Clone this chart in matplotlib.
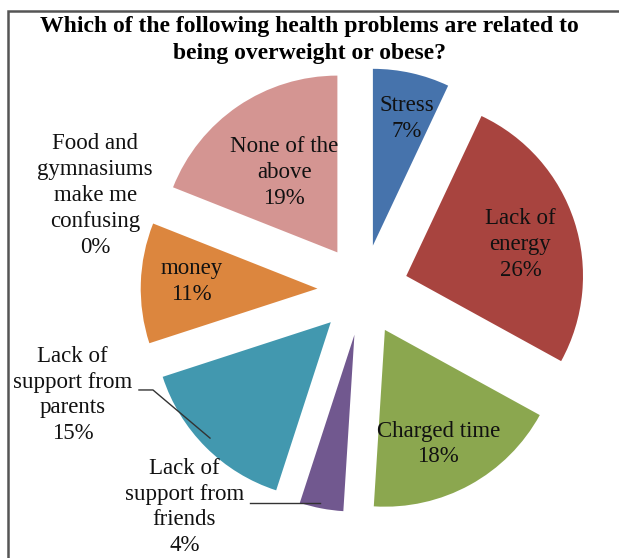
import numpy as np
import matplotlib.pyplot as plt
from matplotlib.patches import Rectangle

plt.rcParams['font.family'] = ['Liberation Serif', 'DejaVu Serif']

categories = ['Stress', 'Lack of energy', 'Charged time', 'Lack of support from friends',
              'Lack of support from parents', 'money', 'Food and gymnasiums make me confusing',
              'None of the above']
values = [7, 26, 18, 4, 15, 11, 0, 19]
colors = ['#4673AC', '#A8443F', '#8BA74F', '#71588F', '#4298AF', '#DC863E', '#93A9CF', '#D49592']

# label text (with line breaks) and where each one sits
labels = ['Stress', 'Lack of\nenergy', 'Charged time', 'Lack of\nsupport from\nfriends',
          'Lack of\nsupport from\nparents', 'money', 'Food and\ngymnasiums\nmake me\nconfusing',
          'None of the\nabove']
label_pos = [(0.25, 0.98), (0.90, 0.26), (0.43, -0.88), (-1.02, -1.24),
             (-1.66, -0.60), (-0.98, 0.05), (-1.53, 0.54), (-0.45, 0.67)]

fig = plt.figure(figsize=(6.19, 5.58), dpi=100)
ax = fig.add_axes([0, 0, 1, 1])

wedges, _ = ax.pie(values, colors=colors, startangle=90, counterclock=False,
                   explode=[0.26] * len(values), radius=1.01,
                   wedgeprops=dict(linewidth=0))

for lab, v, (x, y) in zip(labels, values, label_pos):
    ax.text(x, y, f'{lab}\n{v}%', ha='center', va='center', fontsize=16.5,
            linespacing=1.3, color='#111111')

# leader lines for the outside labels
ax.plot([-1.28, -1.20, -0.874], [-0.571, -0.571, -0.846], color='#333333', lw=1)
ax.plot([-0.646, -0.246], [-1.216, -1.216], color='#333333', lw=1)

ax.set_xlim(-2.074, 1.463)
ax.set_ylim(-1.531, 1.657)
ax.set_aspect('auto')
ax.axis('off')

fig.text(0.5, 0.972, 'Which of the following health problems are related to\n'
         'being overweight or obese?', ha='center', va='top',
         fontsize=17, fontweight='bold', linespacing=1.4)

# outer frame
fig.patches.append(Rectangle((8 / 619, -0.1), 1.2, 1 - 11 / 558 + 0.1,
                             transform=fig.transFigure, fill=False,
                             edgecolor='#555555', linewidth=1.8))

fig.savefig('out.png', dpi=100)
